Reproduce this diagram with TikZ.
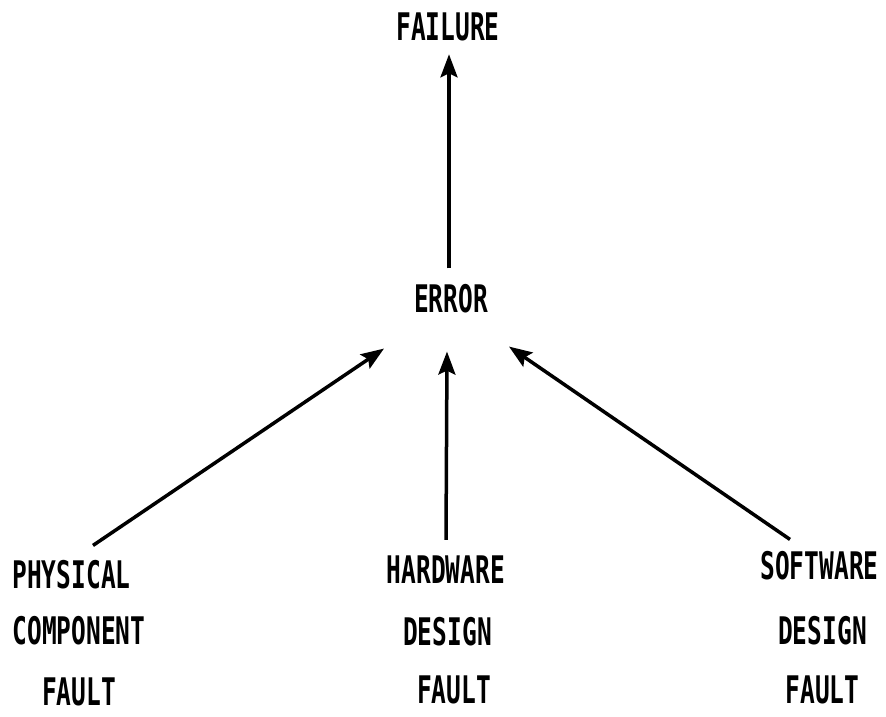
\documentclass[tikz,border=0pt]{standalone}
\usepackage{fontspec}
\newfontfamily\lblfont{DejaVu Sans Mono}[FakeStretch=0.645]
\usetikzlibrary{arrows.meta}
\begin{document}
\begin{tikzpicture}[x=1pt,y=-1pt,
  lbl/.style={inner sep=0pt,anchor=center,
    font=\lblfont\bfseries\fontsize{38}{38}\selectfont},
  arr/.style={line width=3.5pt,-{Stealth[length=23pt,width=17pt,inset=4pt]}}]
\useasboundingbox (0,0) rectangle (886,717);

% top of the chain
\node[lbl] (failure) at (448,27)  {FAILURE};
\node[lbl] (error)   at (451,299) {ERROR};

% three fault sources
\node[lbl] (phys1) at (71.5,575) {PHYSICAL};
\node[lbl] (phys2) at (79,631)   {COMPONENT};
\node[lbl] (phys3) at (79,692)   {FAULT};

\node[lbl] (hard1) at (446,570)   {HARDWARE};
\node[lbl] (hard2) at (447.5,632) {DESIGN};
\node[lbl] (hard3) at (454,690)   {FAULT};

\node[lbl] (soft1) at (819.5,566) {SOFTWARE};
\node[lbl] (soft2) at (822.5,631) {DESIGN};
\node[lbl] (soft3) at (822.5,690) {FAULT};

% connectors
\draw[arr] ([shift={(-2,-16)}]error.north) -- ([shift={(1,13)}]failure.south);
\draw[arr] ([shift={(21.5,-15)}]phys1.north) -- ([shift={(-67,35)}]error.south);
\draw[arr] ([shift={(0,-16)}]hard1.north) -- ([shift={(-4,38)}]error.south);
\draw[arr] ([shift={(-29.5,-12)}]soft1.north) -- ([shift={(58,33)}]error.south);
\end{tikzpicture}
\end{document}
